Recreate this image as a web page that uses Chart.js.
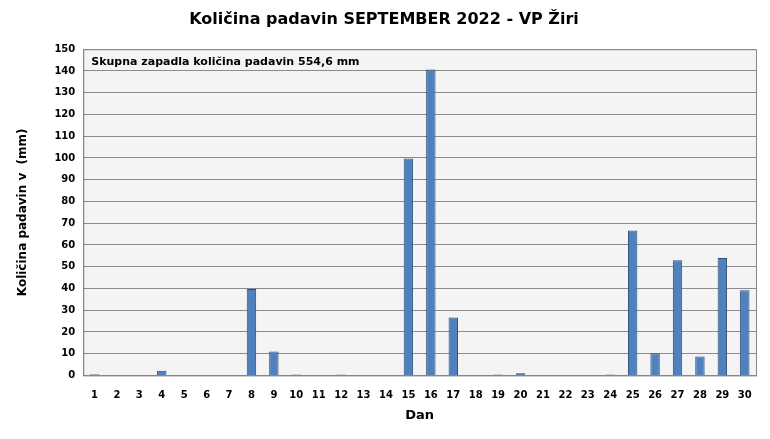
<!DOCTYPE html>
<html>
<head>
<meta charset="utf-8">
<script src="https://cdn.jsdelivr.net/npm/chart.js@4"></script>
<style>
  body { margin: 0; background: #fff; }
  #wrap { position: relative; width: 770px; height: 439px; }
</style>
</head>
<body>
<div id="wrap"><canvas id="padavine"></canvas></div>
<script>
const days = ['1','2','3','4','5','6','7','8','9','10','11','12','13','14','15','16','17','18','19','20','21','22','23','24','25','26','27','28','29','30'];
const rain = [0.5,0,0,2.1,0,0,0,39.7,11,0.4,0,0.4,0,0,99.7,140.7,26.6,0,0.4,1.0,0,0,0,0.4,66.6,10.2,53,8.7,54,39.2];
const note = 'Skupna zapadla količina padavin 554,6 mm';

const font = 'Tahoma, "DejaVu Sans", sans-serif';

const plotBg = {
    id: 'plotBg',
    beforeDraw(chart) {
        const { ctx, chartArea: a } = chart;
        ctx.save();
        ctx.fillStyle = '#f4f4f4';
        ctx.fillRect(a.left, a.top, a.right - a.left, a.bottom - a.top);
        ctx.restore();
    },
    afterDraw(chart) {
        const { ctx, chartArea: a } = chart;
        ctx.save();
        ctx.strokeStyle = '#888';
        ctx.lineWidth = 1;
        ctx.strokeRect(a.left + 0.5, a.top + 0.5, a.right - a.left, a.bottom - a.top);
        ctx.fillStyle = '#000';
        ctx.font = 'bold 11px ' + font;
        ctx.textBaseline = 'middle';
        ctx.fillText(note, a.left + 8, a.top + 13);
        ctx.restore();
    }
};

new Chart(document.getElementById('padavine'), {
    type: 'bar',
    data: {
        labels: days,
        datasets: [{
            data: rain,
            backgroundColor: '#4f81bd',
            borderColor: '#2c4d75',
            borderWidth: 1,
            barPercentage: 0.42,
            categoryPercentage: 1.0,
        }]
    },
    options: {
        animation: false,
        responsive: true,
        maintainAspectRatio: false,
        layout: { padding: { top: 6, right: 14, left: 12, bottom: 16 } },
        plugins: {
            legend: { display: false },
            tooltip: { enabled: false },
            title: {
                display: true,
                text: 'Količina padavin SEPTEMBER 2022 - VP Žiri',
                color: '#000',
                font: { family: font, size: 16, weight: 'bold' },
                padding: { top: 4, bottom: 20 }
            }
        },
        scales: {
            x: {
                grid: { display: false },
                border: { color: '#888' },
                ticks: { color: '#000', padding: 6, font: { family: font, size: 10, weight: 'bold' }, maxRotation: 0, autoSkip: false },
                title: { display: true, text: 'Dan', color: '#000', font: { family: font, size: 13, weight: 'bold' }, padding: 0 }
            },
            y: {
                min: 0,
                max: 150,
                grid: { color: '#8c8c8c', drawTicks: false },
                border: { color: '#888' },
                ticks: { stepSize: 10, color: '#000', padding: 8, font: { family: font, size: 10, weight: 'bold' } },
                title: { display: true, text: 'Količina padavin v  (mm)', color: '#000', font: { family: font, size: 12, weight: 'bold' }, padding: { bottom: 16 } }
            }
        }
    },
    plugins: [plotBg]
});
</script>
</body>
</html>
